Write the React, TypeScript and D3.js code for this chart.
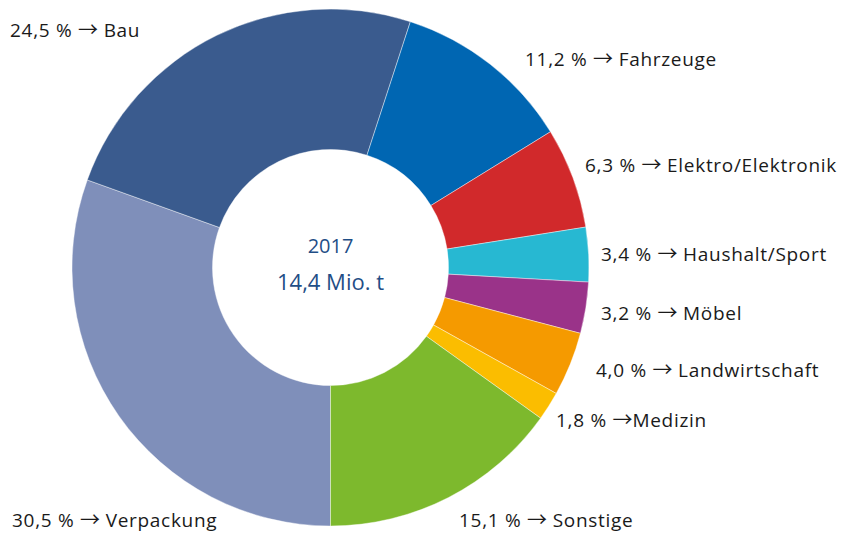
import React from "react";
import * as d3 from "d3";

const categories = ["Verpackung", "Bau", "Fahrzeuge", "Elektro/Elektronik", "Haushalt/Sport", "Möbel", "Landwirtschaft", "Medizin", "Sonstige"];
const shares = [30.5, 24.5, 11.2, 6.3, 3.4, 3.2, 4.0, 1.8, 15.1];
const colors = ["#7f8fba", "#3a5b8e", "#0066b2", "#d1292b", "#27b8d2", "#9a3389", "#f59a00", "#fbbd00", "#7db92d"];
const centerLines = ["2017", "14,4 Mio. t"];

// label anchor points (left edge, baseline)
const labelPos: [number, number][] = [
  [12, 527], [10, 37], [525, 66], [585, 172], [601, 261], [601, 320], [596, 377], [556, 427], [459, 527],
];

const W = 842, H = 536;
const cx = 330.5, cy = 267.5;
const outerR = 258.5, innerR = 118;

const fmt = (v: number) => v.toFixed(1).replace(".", ",");

const App = () => {
  const pie = d3.pie<number>().sort(null).startAngle(Math.PI).endAngle(3 * Math.PI);
  const arcs = pie(shares);
  const arc = d3.arc<d3.PieArcDatum<number>>().innerRadius(innerR).outerRadius(outerR);

  return (
    <svg width={W} height={H} style={{ position: "absolute", left: 0, top: 0, fontFamily: "'Open Sans', sans-serif" }}>
      <g transform={`translate(${cx},${cy})`}>
        {arcs.map((a, i) => (
          <path key={categories[i]} d={arc(a) || ""} fill={colors[i]} stroke="#fff" strokeWidth={0.6} strokeOpacity={0.7} />
        ))}
        {centerLines.map((t, i) => (
          <text key={t} x={0} y={i === 0 ? -15 : 22} textAnchor="middle" fontSize={i === 0 ? 20 : 22} fill="#1f4e86">{t}</text>
        ))}
      </g>
      {categories.map((c, i) => (
        <text key={c} x={labelPos[i][0]} y={labelPos[i][1]} fontSize={19} letterSpacing={0.7} fill="#1a1a1a" xmlSpace="preserve">
          {`${fmt(shares[i])} % `}
          <tspan fontFamily="'Noto Sans CJK SC'" fontSize={20} letterSpacing={0}>→</tspan>
          {i === 7 ? c : ` ${c}`}
        </text>
      ))}
    </svg>
  );
};

export default App;
